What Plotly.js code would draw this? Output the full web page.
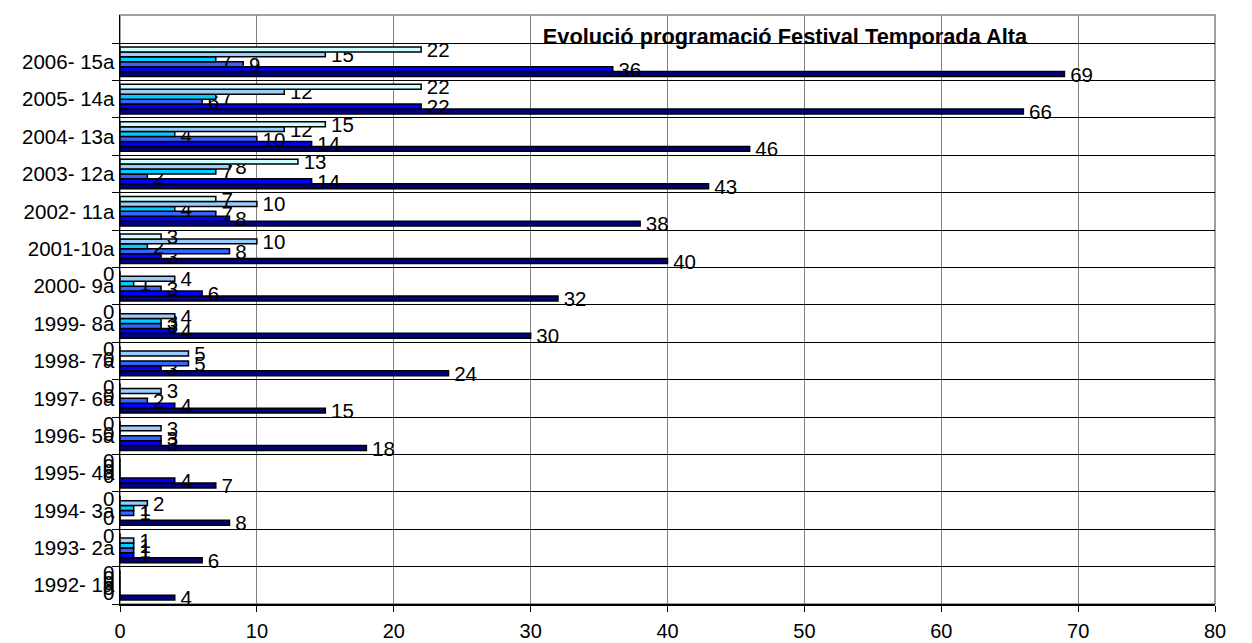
<!DOCTYPE html>
<html>
<head>
<meta charset="utf-8">
<script src="https://cdn.plot.ly/plotly-3.0.1.min.js"></script>
<style>html,body{margin:0;padding:0;background:#fff;}#chart{width:1252px;height:643px;}</style>
</head>
<body>
<div id="chart"></div>
<script>
// Categories (bottom to top)
const categories = ["1992- 1a","1993- 2a","1994- 3a","1995- 4a","1996- 5a","1997- 6a","1998- 7a","1999- 8a","2000- 9a","2001-10a","2002- 11a","2003- 12a","2004- 13a","2005- 14a","2006- 15a"];

// Series values, one per category (1992 ... 2006)
const serie1 = [4, 6, 8, 7, 18, 15, 24, 30, 32, 40, 38, 43, 46, 66, 69];
const serie2 = [0, 1, 0, 4, 3, 4, 3, 4, 6, 3, 8, 14, 14, 22, 36];
const serie3 = [0, 1, 1, 0, 3, 2, 5, 3, 3, 8, 7, 2, 10, 6, 9];
const serie4 = [0, 1, 1, 0, 0, 0, 0, 3, 1, 2, 4, 7, 4, 7, 7];
const serie5 = [0, 1, 2, 0, 3, 3, 5, 4, 4, 10, 10, 8, 12, 12, 15];
const serie6 = [0, 0, 0, 0, 0, 0, 0, 0, 0, 3, 7, 13, 15, 22, 22];

const seriesList = [serie1, serie2, serie3, serie4, serie5, serie6];
const colors = ["#000080", "#0000FF", "#3366FF", "#00CCFF", "#99CCFF", "#CCFFFF"];
const xTicks = [0, 10, 20, 30, 40, 50, 60, 70, 80];

const FONT = "Liberation Sans, Arial, sans-serif";
const NBSP = "\u00a0";

const W = 1252, H = 643;
const margin = {l: 120, r: 37, t: 15, b: 39};
const yRange = [-0.5, 15.25];
const bargap = 0.21;

const traces = seriesList.map((vals, i) => ({
  type: "bar",
  orientation: "h",
  y: categories,
  x: vals,
  name: "Serie " + (i + 1),
  marker: {color: colors[i], line: {color: "#000000", width: 1.5}},
  text: vals.map(v => NBSP + String(v)),
  textposition: vals.map(v => v === 0 ? "none" : "outside"),
  constraintext: "none",
  cliponaxis: false,
  textfont: {family: FONT, size: 20.5, color: "#000000"},
  hoverinfo: "y+text"
}));

// "0" labels sit just left of the axis, at the height of their (empty) bar
const bandPx = (H - margin.t - margin.b) / (yRange[1] - yRange[0]);
const barPx = bandPx * (1 - bargap) / seriesList.length;
const zeroLabels = [];
seriesList.forEach((vals, i) => {
  vals.forEach((v, j) => {
    if (v === 0) {
      zeroLabels.push({
        x: 0, xref: "x", y: categories[j], yref: "y",
        text: String(v), showarrow: false,
        xanchor: "right", yanchor: "middle",
        xshift: -4, yshift: (i - (seriesList.length - 1) / 2) * barPx,
        font: {family: FONT, size: 20.5, color: "#000000"}
      });
    }
  });
});

const layout = {
  width: W,
  height: H,
  margin: margin,
  paper_bgcolor: "#ffffff",
  plot_bgcolor: "#ffffff",
  showlegend: false,
  barmode: "group",
  bargap: bargap,
  bargroupgap: 0,
  font: {family: FONT, size: 19, color: "#000000"},
  title: {
    text: "<b>Evolució programació Festival Temporada Alta</b>",
    font: {family: FONT, size: 21.8, color: "#000000"},
    x: 0.627, xanchor: "center",
    y: 0.944, yanchor: "middle"
  },
  xaxis: {
    range: [0, 80],
    tickvals: xTicks,
    ticktext: xTicks.map(String),
    showgrid: true,
    gridcolor: "#808080",
    gridwidth: 1,
    zeroline: false,
    showline: true,
    linecolor: "#000000",
    linewidth: 1.5,
    ticks: "outside",
    ticklen: 6,
    tickcolor: "#000000",
    ticklabelstandoff: 2,
    tickfont: {family: FONT, size: 20, color: "#000000"},
    fixedrange: true
  },
  yaxis: {
    type: "category",
    categoryorder: "array",
    categoryarray: categories,
    range: yRange,
    tickson: "boundaries",
    ticks: "outside",
    ticklen: 7,
    tickcolor: "#000000",
    showgrid: true,
    gridcolor: "#000000",
    gridwidth: 1,
    zeroline: false,
    showline: true,
    linecolor: "#000000",
    linewidth: 1.5,
    tickfont: {family: FONT, size: 20.5, color: "#000000"},
    fixedrange: true
  },
  annotations: zeroLabels,
  shapes: [{
    type: "rect", xref: "paper", yref: "paper",
    x0: 0, x1: 1, y0: 0, y1: 1,
    line: {color: "#808080", width: 1.5},
    layer: "below"
  }]
};

Plotly.newPlot("chart", traces, layout, {displayModeBar: false, staticPlot: true});
</script>
</body>
</html>
